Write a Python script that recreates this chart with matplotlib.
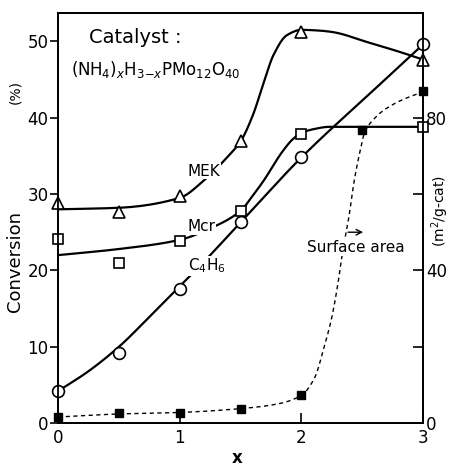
import numpy as np
import matplotlib
matplotlib.use("Agg")
import matplotlib.pyplot as plt

# measured points
x_pts = [0, 0.5, 1.0, 1.5, 2.0, 3.0]
mek = [28.8, 27.7, 29.8, 36.9, 51.2, 47.6]
mcr = [24.1, 21.0, 23.8, 27.8, 37.9, 38.8]
c4h6 = [4.2, 9.2, 17.6, 26.3, 34.8, 49.6]

sa_x = [0, 0.5, 1.0, 1.5, 2.0, 2.5, 3.0]
sa = [1.6, 2.6, 2.6, 3.7, 7.3, 76.8, 86.9]   # m2/g-cat

# hand-drawn curves
mek_cx = [0, 0.5, 1.0, 1.2, 1.4, 1.5, 1.6, 1.69, 1.77, 1.88, 2.0, 2.15, 2.26, 2.54, 2.81, 3.0]
mek_cy = [28.0, 28.2, 29.5, 31.8, 35.0, 36.9, 40.3, 44.6, 48.2, 50.8, 51.5, 51.4, 51.2, 49.9, 48.6, 47.6]
mcr_cx = [0, 0.5, 1.0, 1.25, 1.5, 1.6, 1.7, 1.77, 1.85, 1.93, 2.0, 2.1, 2.23, 2.5, 3.0]
mcr_cy = [22.0, 22.8, 24.0, 25.5, 27.8, 29.8, 32.0, 33.8, 35.7, 37.2, 38.0, 38.5, 38.8, 38.8, 38.8]
c4_cx = [0, 0.25, 0.5, 0.75, 1.0, 1.25, 1.5, 2.0, 2.62, 3.0]
c4_cy = [4.2, 6.8, 10.0, 13.9, 17.9, 22.0, 26.3, 34.8, 44.0, 49.6]
sa_cx = [0, 0.5, 1.0, 1.5, 1.8, 2.0, 2.11, 2.18, 2.25, 2.30, 2.34, 2.39, 2.43, 2.48, 2.52, 2.6, 2.67, 2.81, 3.0]
sa_cy = [1.6, 2.4, 2.8, 3.8, 5.0, 7.3, 12.0, 19.2, 27.8, 36.6, 45.2, 54.0, 62.8, 71.0, 76.2, 79.8, 81.8, 84.4, 86.8]


def smooth(xs, ys, n=20):
    # monotone cubic through the traced points, just for drawing
    x = np.asarray(xs, float)
    y = np.asarray(ys, float)
    h = np.diff(x)
    d = np.diff(y) / h
    m = np.zeros_like(y)
    m[0], m[-1] = d[0], d[-1]
    for i in range(1, len(x) - 1):
        if d[i - 1] * d[i] <= 0:
            m[i] = 0
        else:
            w1 = 2 * h[i] + h[i - 1]
            w2 = h[i] + 2 * h[i - 1]
            m[i] = (w1 + w2) / (w1 / d[i - 1] + w2 / d[i])
    ox, oy = [], []
    for i in range(len(x) - 1):
        t = np.linspace(0, 1, n, endpoint=False)
        h00 = 2 * t**3 - 3 * t**2 + 1
        h10 = t**3 - 2 * t**2 + t
        h01 = -2 * t**3 + 3 * t**2
        h11 = t**3 - t**2
        ox.extend(x[i] + t * h[i])
        oy.extend(h00 * y[i] + h10 * h[i] * m[i] + h01 * y[i + 1] + h11 * h[i] * m[i + 1])
    ox.append(x[-1])
    oy.append(y[-1])
    return ox, oy


plt.rcParams['font.family'] = 'DejaVu Sans'
fig = plt.figure(figsize=(4.54, 4.66), dpi=100)
ax = fig.add_axes([0.128, 0.092, 0.804, 0.88])
ax2 = ax.twinx()

lw = 1.6
for cx, cy in [(mek_cx, mek_cy), (mcr_cx, mcr_cy), (c4_cx, c4_cy)]:
    sx, sy = smooth(cx, cy)
    ax.plot(sx, sy, color='black', lw=lw, zorder=2)

ax.plot(x_pts, mek, ls='none', marker='^', ms=9, mfc='white', mec='black', mew=1.2, clip_on=False, zorder=3)
ax.plot(x_pts, mcr, ls='none', marker='s', ms=7, mfc='white', mec='black', mew=1.2, clip_on=False, zorder=3)
ax.plot(x_pts, c4h6, ls='none', marker='o', ms=8.5, mfc='white', mec='black', mew=1.2, clip_on=False, zorder=3)

sx, sy = smooth(sa_cx, sa_cy)
ax2.plot(sx, sy, color='black', lw=1.0, ls=(0, (3, 2.5)))
ax2.plot(sa_x, sa, ls='none', marker='s', ms=5.5, color='black', clip_on=False)

ax.set_xlim(0, 3)
ax.set_ylim(0, 53.7)
ax2.set_ylim(0, 107.4)

ax.set_xticks([0, 1, 2, 3])
ax.set_xticklabels(['0', '1', '2', '3'])
ax.set_yticks([0, 10, 20, 30, 40, 50])
ax.tick_params(axis='y', direction='out', length=6, width=1.2, labelsize=12, pad=1)
ax.tick_params(axis='x', direction='in', length=7, width=1.2, labelsize=12, pad=4)
ax2.set_yticks([0, 20, 40, 60, 80])
ax2.set_yticklabels(['0', '', '40', '', '80'])
ax2.tick_params(axis='y', direction='in', length=7, width=1.2, labelsize=12, pad=2)

for a in (ax, ax2):
    for s in a.spines.values():
        s.set_linewidth(1.3)

ax.text(-0.118, 0.393, 'Conversion', transform=ax.transAxes, rotation=90,
        ha='center', va='center', fontsize=13)
ax.text(-0.118, 0.807, '(%)', transform=ax.transAxes, rotation=90,
        ha='center', va='center', fontsize=10)
ax.text(1.048, 0.517, '(m$^2$/g-cat)', transform=ax.transAxes, rotation=90,
        ha='center', va='center', fontsize=10)
ax.text(0.49, -0.085, 'x', transform=ax.transAxes, ha='center', va='center',
        fontsize=12, fontweight='bold')

ax.text(0.25, 50.5, 'Catalyst :', fontsize=14, ha='left', va='center')
ax.text(0.11, 46.3, r'(NH$_4$)$_x$H$_{3\mathrm{-}x}$PMo$_{12}$O$_{40}$', fontsize=12,
        ha='left', va='center')

box = dict(facecolor='white', edgecolor='none', pad=0.5)
ax.text(1.2, 33.0, 'MEK', fontsize=11, ha='center', va='center', bbox=box, zorder=4)
ax.text(1.18, 25.7, 'Mcr', fontsize=11, ha='center', va='center', bbox=box, zorder=4)
ax.text(1.22, 20.6, 'C$_4$H$_6$', fontsize=11, ha='center', va='center', bbox=box, zorder=4)
ax2.text(2.45, 46.0, 'Surface area', fontsize=11, ha='center', va='center', bbox=box, zorder=4)
ax2.annotate('', xy=(2.53, 50.0), xytext=(2.36, 50.0),
             arrowprops=dict(arrowstyle='->', color='black', lw=1.0))

fig.savefig('out.png', dpi=100)
